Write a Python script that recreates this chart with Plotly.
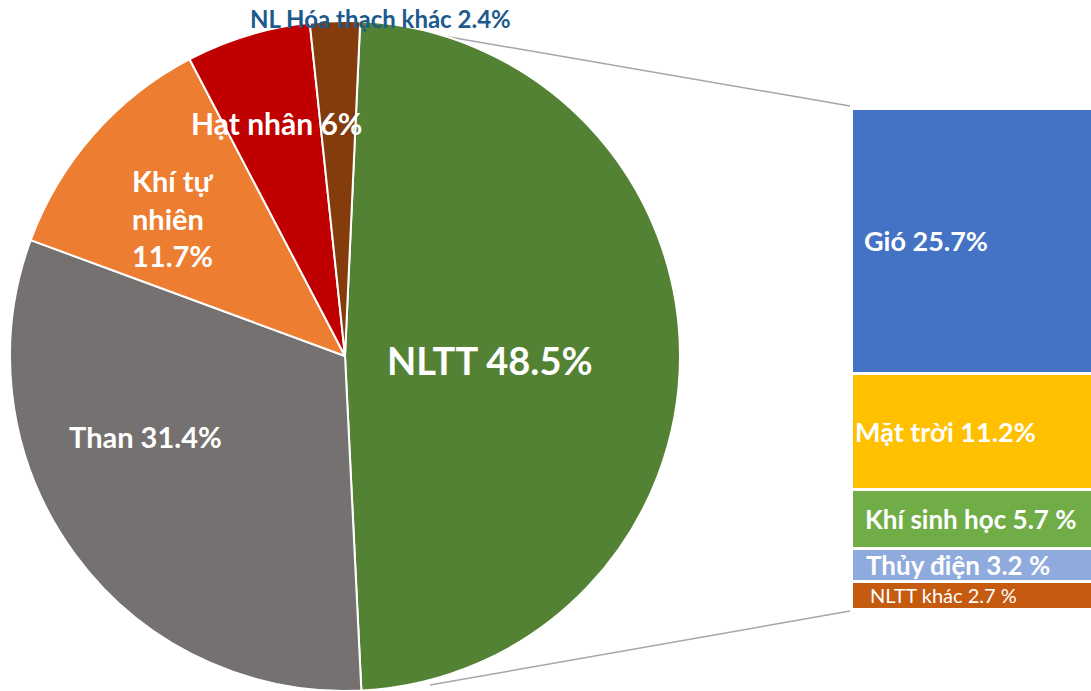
import plotly.graph_objects as go

W, H = 1091, 691

# ---- data ----
pie_labels = ["NLTT", "Than", "Khí tự nhiên", "Hạt nhân", "NL Hóa thạch khác"]
pie_values = [48.5, 31.4, 11.7, 6.0, 2.4]
pie_colors = ["#548235", "#767171", "#ED7D31", "#C00000", "#843C0C"]

bar_labels = ["NLTT khác", "Thủy điện", "Khí sinh học", "Mặt trời", "Gió"]  # bottom -> top
bar_values = [2.7, 3.2, 5.7, 11.2, 25.7]
bar_colors = ["#C55A11", "#8FAADC", "#70AD47", "#FFC000", "#4472C4"]
bar_texts = ["NLTT khác 2.7 %", "<b>Thủy điện 3.2 %</b>", "<b>Khí sinh học 5.7 %</b>",
             "<b>Mặt trời 11.2%</b>", "<b>Gió 25.7%</b>"]
bar_text_x = [943, 958, 971, 945, 926]   # pixel centers of labels
bar_text_size = [20, 26, 26, 27, 27]

FONT = "Lato"

def px(x):
    return x / W

def py(y):
    return 1 - y / H

fig = go.Figure()

fig.add_trace(go.Pie(
    labels=pie_labels, values=pie_values, sort=False, direction="clockwise",
    rotation=2.6, textinfo="none", hoverinfo="label+percent",
    marker=dict(colors=pie_colors, line=dict(color="white", width=2)),
    domain=dict(x=[px(10), px(680)], y=[0, 670 / H]),
    showlegend=False,
))

for lab, val, col in zip(bar_labels, bar_values, bar_colors):
    fig.add_trace(go.Bar(
        x=["NLTT"], y=[val], name=lab, width=1,
        marker=dict(color=col, line=dict(color="white", width=3)),
        xaxis="x", yaxis="y", showlegend=False,
    ))

total_bar = sum(bar_values)
fig.update_layout(
    width=W, height=H, barmode="stack",
    margin=dict(l=0, r=0, t=0, b=0),
    paper_bgcolor="white", plot_bgcolor="rgba(0,0,0,0)",
    xaxis=dict(domain=[px(851), 1], range=[-0.5, 0.48], visible=False, fixedrange=True),
    yaxis=dict(domain=[py(609), py(108)], range=[0, total_bar], visible=False, fixedrange=True),
    font=dict(family=FONT),
)

# connector lines
fig.add_shape(type="line", xref="paper", yref="paper",
              x0=px(397), y0=py(28), x1=px(850), y1=py(106),
              line=dict(color="#A6A6A6", width=1.5), layer="below")
fig.add_shape(type="line", xref="paper", yref="paper",
              x0=px(430), y0=py(685), x1=px(850), y1=py(611),
              line=dict(color="#A6A6A6", width=1.5), layer="below")

# pie labels
pie_annots = [
    ("<b>NLTT 48.5%</b>", 490, 360, 38, "white", "center"),
    ("<b>Than 31.4%</b>", 145, 437, 29, "white", "center"),
    ("<b>Khí tự<br>nhiên<br>11.7%</b>", 172, 218, 29, "white", "left"),
    ("<b>Hạt nhân 6%</b>", 276, 123, 30, "white", "center"),
    ("<b>NL Hóa thạch khác 2.4%</b>", 380, 19, 24, "#1D5A8C", "center"),
]
for t, x, y, s, c, al in pie_annots:
    fig.add_annotation(text=t, x=px(x), y=py(y), xref="paper", yref="paper",
                       showarrow=False, font=dict(size=s, color=c, family=FONT),
                       align=al, xanchor="center", yanchor="middle")

# bar labels at segment midpoints (data coords)
cum = 0
for val, t, xx, s in zip(bar_values, bar_texts, bar_text_x, bar_text_size):
    mid = cum + val / 2
    cum += val
    fig.add_annotation(text=t, x=px(xx), y=mid, xref="paper", yref="y",
                       showarrow=False, font=dict(size=s, color="white", family=FONT),
                       xanchor="center", yanchor="middle")

fig.write_html("out.html", config={"displayModeBar": False},
               post_script="document.body.style.margin='0';document.body.style.padding='0';"
                           "document.body.style.overflow='hidden';")
